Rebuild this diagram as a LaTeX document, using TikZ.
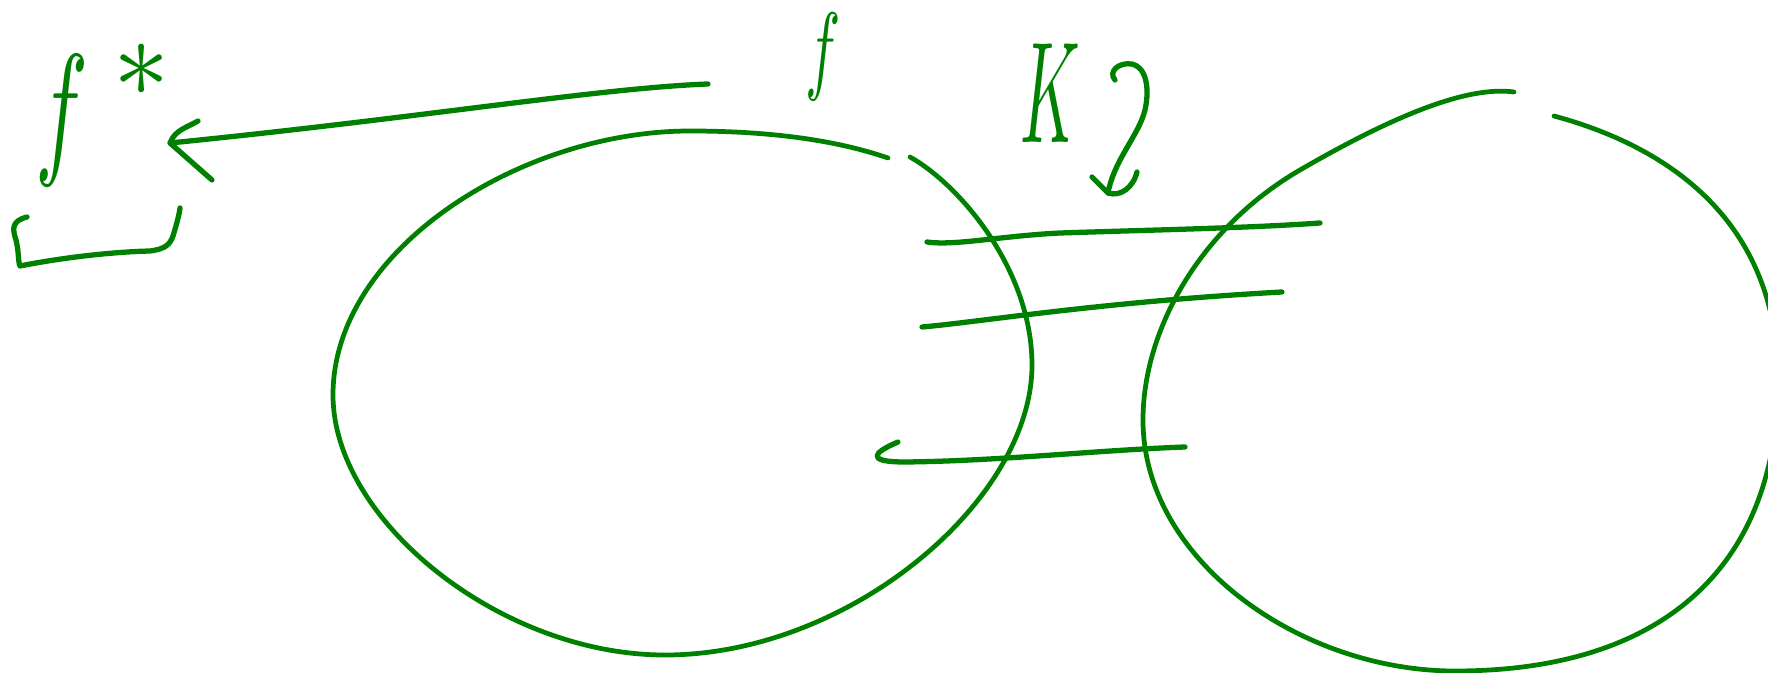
\documentclass[tikz,border=0pt]{standalone}
\usepackage{amsmath}
\usepackage{tikz}
\usetikzlibrary{positioning,calc}
\definecolor{ink}{RGB}{0,128,0}
\tikzset{
  pen/.style={draw=ink,line width=1.5pt,line cap=round,line join=round},
  loop pen/.style={pen,line width=1.35pt},
  hand/.style={text=ink,inner sep=0pt,outer sep=0pt}
}

\begin{document}
\begin{tikzpicture}[x=0.01cm,y=-0.01cm]
  \useasboundingbox (0,0) rectangle (1768,673);
  \clip (0,0) rectangle (1768,673);
  % Labels
  \node[hand,scale=4.2,xscale=0.6,anchor=base] (fstar) at (62,158) {$f$};
  \node[hand,scale=3.2] (star) at (142,70) {$*$};
  \node[hand,scale=2.8,xscale=0.6,anchor=base] (flab) at (823,82) {$f$};
  \node[hand,scale=4.1,xscale=0.45,anchor=base] (klab) at (1050,143) {$K$};
  % Bracket under f*
  \draw[pen] (27,217) .. controls (12,221) and (12,228) .. (16,240)
    .. controls (19,252) and (18,262) .. (20,266)
    .. controls (60,258) and (110,252) .. (150,251)
    .. controls (166,249) and (170,244) .. (173,236)
    .. controls (176,226) and (179,216) .. (180,208);
  % Arrow f -> f*
  \coordinate (tail) at (708,84);
  \coordinate (tip) at (170,143);
  \draw[pen] (tail) .. controls (600,88) and (420,118) .. (tip);
  \draw[pen] (198,121) .. controls (186,128) and (175,130) .. (tip) -- (212,180);
  % Squiggly arrow beside K
  \coordinate (sqtop) at (1115,80);
  \coordinate (sqtip) at (1108,193);
  \draw[pen] (sqtop) .. controls (1108,72) and (1118,62) .. (1132,64)
    .. controls (1146,67) and (1150,88) .. (1145,110)
    .. controls (1139,135) and (1114,160) .. (sqtip);
  \draw[pen] (1092,177) -- (sqtip)
    .. controls (1120,197) and (1133,188) .. (1137,172);
  % Left loop
  \draw[loop pen] (888,158) .. controls (830,138) and (760,131) .. (690,131)
    .. controls (520,131) and (333,250) .. (333,395)
    .. controls (333,520) and (500,655) .. (665,655)
    .. controls (850,655) and (1032,500) .. (1032,365)
    .. controls (1032,270) and (960,185) .. (910,157);
  % Right loop
  \draw[loop pen] (1514,92) .. controls (1470,86) and (1400,112) .. (1300,170)
    .. controls (1200,228) and (1143,330) .. (1143,420)
    .. controls (1143,560) and (1300,671) .. (1455,671)
    .. controls (1670,671) and (1778,560) .. (1778,380)
    .. controls (1778,230) and (1680,150) .. (1554,116);
  % Cross lines
  \draw[pen] (927,242) .. controls (955,246) and (1000,236) .. (1060,233)
    .. controls (1150,230) and (1250,228) .. (1320,223);
  \draw[pen] (922,327) .. controls (980,322) and (1100,302) .. (1282,292);
  \draw[pen] (898,442) .. controls (872,453) and (866,462) .. (905,462)
    .. controls (1000,461) and (1100,450) .. (1185,447);
\end{tikzpicture}
\end{document}
